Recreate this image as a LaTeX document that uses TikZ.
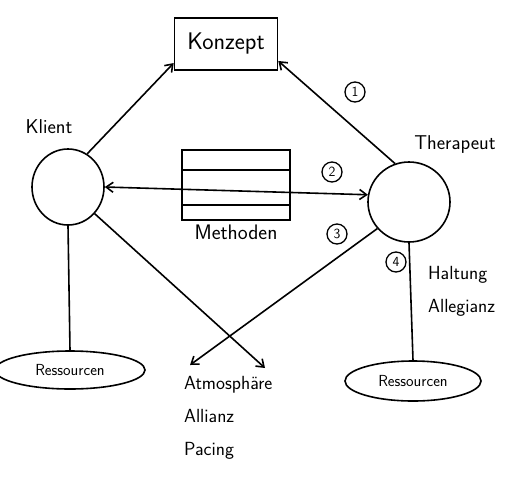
\documentclass[tikz,border=0pt]{standalone}
\usepackage{tikz}
\usetikzlibrary{positioning, arrows.meta, shapes.geometric}

\begin{document}
\begin{tikzpicture}[x=1pt, y=-1pt, line width=1.6pt,
  box/.style={draw, rectangle},
  person/.style={draw, ellipse},
  resource/.style={draw, ellipse, font=\sffamily\fontsize{16}{18}\selectfont},
  step num/.style={draw, circle, line width=1.3pt, minimum size=20pt, inner sep=0pt, font=\sffamily\fontsize{14}{15}\selectfont},
  hand/.style={font=\sffamily\fontsize{19}{33}\selectfont, align=left},
  arr/.style={-{Straight Barb[length=7pt, width=10pt]}},
  both arr/.style={{Straight Barb[length=7pt, width=10pt]}-{Straight Barb[length=7pt, width=10pt]}}]
\useasboundingbox (0,0) rectangle (532,480);

% main nodes
\node[box, minimum width=103, minimum height=52, font=\sffamily\fontsize{24}{26}\selectfont] (konzept) at (226,44) {Konzept};
\node[person, minimum width=72, minimum height=76] (klient) at (68,187) {};
\node[person, minimum width=82, minimum height=80] (therapeut) at (409,202) {};
\node[font=\sffamily\fontsize{20}{22}\selectfont] (klientname) at (49,127) {Klient};
\node[font=\sffamily\fontsize{20}{22}\selectfont] (therapeutname) at (455,145) {Therapeut};

\node[box, minimum width=108, minimum height=70] (methoden) at (236,185) {};
\draw (methoden.west |- 0,170) -- (methoden.east |- 0,170);
\draw (methoden.west |- 0,205) -- (methoden.east |- 0,205);
\node[below=0pt of methoden, font=\sffamily\fontsize{21}{22}\selectfont] (methodenname) {Methoden};

\node[resource, minimum width=150, minimum height=38] (ressklient) at (70,370) {Ressourcen};
\node[resource, minimum width=136, minimum height=40] (resstherapeut) at (413,381) {Ressourcen};

\node[hand, anchor=north west] (atmo) at (180,372) {Atmosph\"are\\Allianz\\Pacing};
\node[hand, anchor=north west] (haltung) at (424,262) {Haltung\\Allegianz};

\coordinate (atmoleft) at (190,365);
\coordinate (atmoright) at (265,368);

% numbers
\node[step num] (n1) at (355,92) {1};
\node[step num] (n2) at (332,172) {2};
\node[step num] (n3) at (337,234) {3};
\node[step num] (n4) at (396,262) {4};

% connectors
\draw[arr] (klient.60) -- (konzept.200);
\draw[arr] (therapeut.110) -- (konzept.-18);
\draw[both arr] (klient.east) -- (therapeut.170);
\draw[arr] (klient.-45) -- (atmoright);
\draw[arr] (therapeut.220) -- (atmoleft);
\draw (klient.south) -- (ressklient.north);
\draw (therapeut.south) -- (resstherapeut.north);
\end{tikzpicture}
\end{document}
